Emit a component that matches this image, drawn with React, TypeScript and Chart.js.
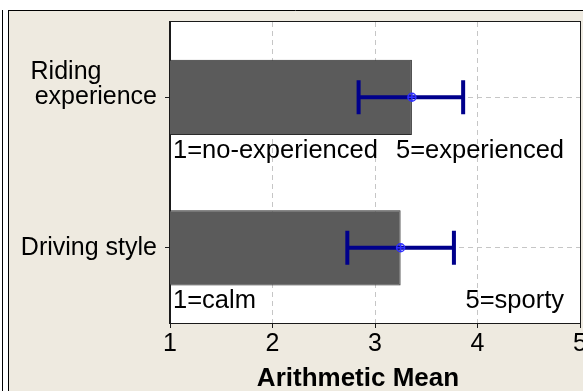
import { useEffect, useRef } from "react";
import { Chart, registerables } from "chart.js";

Chart.register(...registerables);

// Rating items (trailing empty line keeps the last text line on the tick)
const categories: (string | string[])[] = [["Riding        ", "experience", ""], "Driving style"];
const means = [3.36, 3.25];
const lowerBounds = [2.84, 2.73];
const upperBounds = [3.86, 3.77];
const lowLabels = ["1=no-experienced", "1=calm"];
const highLabels = ["5=experienced", "5=sporty"];
const xTickValues = [1, 2, 3, 4, 5];
const xTitle = "Arithmetic Mean";

const FONT = '"Liberation Sans", Arial, sans-serif';
const PAGE_BG = "#EEEAE0";
const BAR_FILL = "#5B5B5B";
const BAR_EDGE = "#2A2A2A";
const ERR_COLOR = "#00008C";
const MEAN_COLOR = "#3030FF";
const GRID = "#C6C6C6";

const decorations = {
  id: "decorations",
  beforeDraw(chart: Chart) {
    const { ctx, width, height, chartArea } = chart;
    ctx.save();
    ctx.fillStyle = "#ffffff";
    ctx.fillRect(0, 0, width, height);
    ctx.fillStyle = PAGE_BG;
    ctx.fillRect(9, 11, width - 9, height - 11);
    ctx.strokeStyle = "#000";
    ctx.lineWidth = 1;
    ctx.beginPath();
    ctx.moveTo(2.5, 10);
    ctx.lineTo(2.5, height);
    ctx.moveTo(8.5, 10);
    ctx.lineTo(8.5, height);
    ctx.moveTo(8, 10.5);
    ctx.lineTo(width, 10.5);
    ctx.stroke();
    ctx.fillStyle = "#ffffff";
    ctx.fillRect(chartArea.left, chartArea.top, chartArea.right - chartArea.left, chartArea.bottom - chartArea.top);
    ctx.restore();
  },
  afterDatasetsDraw(chart: Chart) {
    const { ctx, chartArea } = chart;
    const xs = chart.scales.x;
    const meta = chart.getDatasetMeta(0);
    ctx.save();

    meta.data.forEach((bar: any, i: number) => {
      const y = bar.y;
      const xLo = xs.getPixelForValue(lowerBounds[i]);
      const xHi = xs.getPixelForValue(upperBounds[i]);
      const xM = xs.getPixelForValue(means[i]);
      const cap = 17;

      ctx.strokeStyle = ERR_COLOR;
      ctx.lineWidth = 4;
      ctx.lineCap = "butt";
      ctx.beginPath();
      ctx.moveTo(xLo, y);
      ctx.lineTo(xHi, y);
      ctx.moveTo(xLo, y - cap);
      ctx.lineTo(xLo, y + cap);
      ctx.moveTo(xHi, y - cap);
      ctx.lineTo(xHi, y + cap);
      ctx.stroke();

      ctx.strokeStyle = MEAN_COLOR;
      ctx.lineWidth = 1.5;
      ctx.beginPath();
      ctx.arc(xM, y, 4, 0, Math.PI * 2);
      ctx.moveTo(xM - 4, y);
      ctx.lineTo(xM + 4, y);
      ctx.moveTo(xM, y - 4);
      ctx.lineTo(xM, y + 4);
      ctx.stroke();

      // scale end annotations under each bar
      const baseline = bar.y + bar.height / 2 + 23;
      ctx.fillStyle = "#000";
      ctx.font = `25.5px ${FONT}`;
      ctx.textBaseline = "alphabetic";
      ctx.textAlign = "left";
      ctx.fillText(lowLabels[i], chartArea.left + 3, baseline);
      ctx.textAlign = "right";
      ctx.fillText(highLabels[i], chartArea.right - 16, baseline);
    });

    // plot frame
    ctx.strokeStyle = "#1A1A1A";
    ctx.lineWidth = 1;
    ctx.strokeRect(
      Math.round(chartArea.left) - 0.5,
      Math.round(chartArea.top) - 0.5,
      Math.round(chartArea.right - chartArea.left) + 1,
      Math.round(chartArea.bottom - chartArea.top) + 1
    );

    // axis title
    ctx.fillStyle = "#000";
    ctx.font = `bold 26px ${FONT}`;
    ctx.textAlign = "center";
    ctx.textBaseline = "alphabetic";
    ctx.fillText(xTitle, 358, 386);
    ctx.restore();
  },
};

export default function App() {
  const canvasRef = useRef<HTMLCanvasElement | null>(null);

  useEffect(() => {
    if (!canvasRef.current) return;
    const chart = new Chart(canvasRef.current, {
      type: "bar",
      data: {
        labels: categories,
        datasets: [
          {
            data: means,
            backgroundColor: BAR_FILL,
            borderColor: BAR_EDGE,
            borderWidth: 1,
            borderSkipped: false,
            barPercentage: 0.5,
            categoryPercentage: 1,
          },
        ],
      },
      options: {
        indexAxis: "y",
        responsive: false,
        animation: false,
        devicePixelRatio: 1,
        layout: { padding: { top: 22, right: 3, left: 0, bottom: 0 } },
        plugins: {
          legend: { display: false },
          tooltip: { enabled: false },
          title: { display: false },
        },
        scales: {
          x: {
            type: "linear",
            min: 1,
            max: 5,
            afterBuildTicks: (scale: any) => {
              scale.ticks = xTickValues.map((v) => ({ value: v }));
            },
            afterFit: (scale: any) => {
              scale.height = 68;
              scale.paddingRight = 0;
              scale.paddingLeft = 0;
            },
            grid: {
              color: GRID,
              tickColor: "#1A1A1A",
              tickLength: 5,
              tickBorderDash: [],
              drawTicks: true,
            } as any,
            border: { display: true, color: "#1A1A1A", width: 1, dash: [5, 4] },
            ticks: {
              color: "#000",
              padding: 1,
              font: { family: FONT, size: 25 },
              maxRotation: 0,
              autoSkip: false,
            },
          },
          y: {
            type: "category",
            offset: true,
            afterFit: (scale: any) => {
              scale.width = 170;
            },
            grid: {
              offset: false,
              color: GRID,
              tickColor: "#1A1A1A",
              tickLength: 5,
              tickBorderDash: [],
            } as any,
            border: { display: true, color: "#1A1A1A", width: 1, dash: [5, 4] },
            ticks: {
              color: "#000",
              padding: 8,
              crossAlign: "near",
              font: { family: FONT, size: 25, lineHeight: 1.0 },
            },
          },
        },
      },
      plugins: [decorations],
    });
    return () => chart.destroy();
  }, []);

  return (
    <div style={{ position: "fixed", left: 0, top: 0, width: 583, height: 391 }}>
      <canvas ref={canvasRef} width={583} height={391} style={{ display: "block" }} />
    </div>
  );
}
